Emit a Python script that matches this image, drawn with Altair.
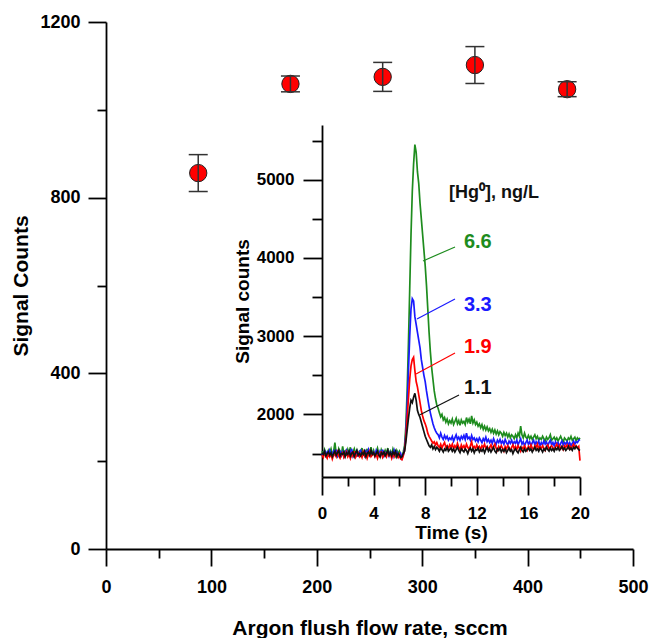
import altair as alt
import pandas as pd

FONT = "Liberation Sans"

# ---- main plot data ----
FLOW = [87.5, 175, 262.5, 350, 437.5]
COUNTS = [856, 1059, 1075, 1102, 1047]
ERR = [42, 18, 33, 42, 17]

# ---- inset data (sampled every 0.1 s) ----
TIME = [round(i * 0.1, 1) for i in range(201)]
GREEN = [1530, 1480, 1550, 1500, 1470, 1540, 1510, 1560, 1490, 1520,
         1640, 1500, 1470, 1560, 1520, 1480, 1590, 1500, 1530, 1470,
         1550, 1500, 1580, 1480, 1520, 1560, 1490, 1540, 1470, 1530,
         1510, 1570, 1480, 1530, 1500, 1560, 1470, 1520, 1580, 1490,
         1540, 1480, 1520, 1570, 1500, 1460, 1550, 1510, 1480, 1540,
         1500, 1570, 1480, 1530, 1490, 1560, 1510, 1470, 1540, 1500,
         1530, 1470, 1450, 1520, 1600, 1850, 2300, 2900, 3600, 4300,
         4850, 5200, 5450, 5350, 5100, 4950, 4700, 4500, 4300, 4100,
         3900, 3650, 3350, 3050, 2800, 2600, 2450, 2300, 2200, 2120,
         2080, 2020, 1970, 2000, 1930, 1960, 1900, 1940, 1880, 1920,
         1890, 1940, 1870, 1910, 1950, 1880, 1920, 1860, 1930, 1890,
         1910, 1870, 1960, 1900, 1940, 1880, 1980, 1890, 1930, 1870,
         1900, 1850, 1880, 1830, 1870, 1810, 1850, 1800, 1840, 1790,
         1820, 1770, 1810, 1760, 1800, 1750, 1790, 1740, 1780, 1760,
         1720, 1770, 1730, 1760, 1710, 1750, 1700, 1740, 1720, 1690,
         1740, 1700, 1760, 1720, 1850, 1740, 1700, 1760, 1710, 1690,
         1730, 1690, 1720, 1680, 1710, 1740, 1690, 1720, 1670, 1700,
         1680, 1720, 1690, 1660, 1710, 1680, 1700, 1740, 1670, 1690,
         1710, 1670, 1700, 1660, 1690, 1720, 1680, 1650, 1700, 1680,
         1660, 1700, 1680, 1720, 1670, 1690, 1710, 1660, 1700, 1680,
         1700]
BLUE = [1500, 1470, 1530, 1490, 1520, 1460, 1540, 1500, 1480, 1530,
        1490, 1550, 1470, 1510, 1530, 1480, 1520, 1460, 1500, 1540,
        1480, 1520, 1500, 1560, 1470, 1510, 1490, 1530, 1460, 1520,
        1540, 1480, 1510, 1470, 1530, 1500, 1550, 1480, 1510, 1490,
        1520, 1470, 1540, 1500, 1480, 1530, 1490, 1550, 1470, 1510,
        1490, 1530, 1470, 1520, 1500, 1460, 1540, 1490, 1520, 1480,
        1460, 1500, 1440, 1480, 1560, 1750, 2100, 2550, 3000, 3350,
        3480, 3450, 3250, 3150, 3050, 2950, 2850, 2700, 2600, 2500,
        2420, 2300, 2200, 2100, 2020, 1950, 1880, 1830, 1790, 1760,
        1740, 1700, 1760, 1710, 1680, 1730, 1690, 1720, 1670, 1700,
        1680, 1720, 1660, 1700, 1740, 1680, 1710, 1670, 1720, 1690,
        1730, 1680, 1760, 1690, 1710, 1670, 1730, 1680, 1700, 1660,
        1690, 1650, 1700, 1670, 1640, 1690, 1660, 1710, 1650, 1680,
        1640, 1670, 1630, 1690, 1650, 1620, 1670, 1640, 1680, 1630,
        1660, 1620, 1680, 1640, 1610, 1660, 1630, 1670, 1620, 1650,
        1630, 1670, 1610, 1650, 1690, 1620, 1650, 1600, 1640, 1670,
        1620, 1650, 1600, 1640, 1670, 1610, 1650, 1620, 1660, 1600,
        1640, 1610, 1660, 1620, 1650, 1600, 1640, 1670, 1610, 1640,
        1600, 1650, 1620, 1640, 1590, 1630, 1660, 1610, 1640, 1620,
        1650, 1610, 1640, 1600, 1630, 1660, 1620, 1650, 1640, 1670,
        1680]
RED = [1480, 1450, 1510, 1470, 1440, 1500, 1460, 1490, 1430, 1480,
       1500, 1460, 1520, 1470, 1440, 1490, 1510, 1450, 1480, 1520,
       1460, 1490, 1440, 1500, 1470, 1530, 1450, 1480, 1510, 1460,
       1490, 1450, 1520, 1470, 1500, 1440, 1490, 1530, 1460, 1480,
       1510, 1460, 1490, 1440, 1500, 1470, 1530, 1450, 1480, 1500,
       1460, 1520, 1470, 1490, 1440, 1500, 1460, 1510, 1480, 1450,
       1490, 1430, 1420, 1470, 1540, 1700, 1950, 2200, 2450, 2620,
       2700, 2730, 2560, 2420, 2350, 2250, 2150, 2050, 1980, 1920,
       1880, 1830, 1760, 1720, 1690, 1660, 1630, 1650, 1610, 1640,
       1600, 1580, 1620, 1570, 1610, 1640, 1580, 1600, 1560, 1610,
       1580, 1620, 1560, 1600, 1570, 1630, 1580, 1550, 1610, 1570,
       1600, 1560, 1620, 1580, 1550, 1600, 1650, 1570, 1590, 1560,
       1610, 1570, 1590, 1550, 1600, 1580, 1620, 1560, 1590, 1550,
       1580, 1610, 1560, 1590, 1620, 1570, 1540, 1590, 1560, 1600,
       1570, 1530, 1590, 1560, 1600, 1570, 1540, 1580, 1610, 1560,
       1590, 1550, 1600, 1570, 1530, 1580, 1560, 1600, 1570, 1540,
       1590, 1560, 1610, 1570, 1550, 1600, 1580, 1620, 1560, 1590,
       1560, 1600, 1570, 1540, 1590, 1610, 1560, 1580, 1600, 1570,
       1550, 1590, 1620, 1570, 1600, 1560, 1590, 1550, 1600, 1580,
       1610, 1570, 1600, 1560, 1590, 1620, 1580, 1600, 1570, 1590,
       1410]
BLACK = [1510, 1490, 1530, 1470, 1500, 1520, 1480, 1510, 1460, 1500,
         1530, 1480, 1510, 1540, 1470, 1500, 1490, 1520, 1460, 1510,
         1490, 1530, 1470, 1500, 1520, 1460, 1510, 1540, 1480, 1500,
         1470, 1510, 1490, 1530, 1460, 1500, 1520, 1480, 1540, 1490,
         1510, 1470, 1500, 1530, 1480, 1460, 1510, 1490, 1520, 1470,
         1500, 1540, 1480, 1510, 1470, 1520, 1490, 1530, 1460, 1500,
         1480, 1450, 1460, 1500, 1530, 1650, 1800, 1950, 2080, 2180,
         2150, 2220, 2270, 2180, 2050, 2000, 1960, 1900, 1840, 1780,
         1720, 1680, 1640, 1600, 1580, 1610, 1560, 1590, 1550, 1580,
         1560, 1530, 1570, 1550, 1520, 1560, 1540, 1580, 1530, 1550,
         1570, 1530, 1560, 1520, 1550, 1580, 1540, 1510, 1560, 1540,
         1520, 1560, 1540, 1500, 1550, 1570, 1530, 1560, 1510, 1550,
         1540, 1570, 1520, 1550, 1530, 1560, 1510, 1550, 1580, 1530,
         1560, 1520, 1550, 1580, 1530, 1510, 1560, 1540, 1570, 1520,
         1550, 1530, 1560, 1510, 1540, 1570, 1530, 1550, 1500, 1540,
         1560, 1530, 1510, 1550, 1580, 1540, 1520, 1560, 1530, 1550,
         1570, 1540, 1560, 1520, 1550, 1580, 1540, 1560, 1530, 1570,
         1550, 1520, 1560, 1540, 1580, 1550, 1530, 1570, 1540, 1560,
         1530, 1570, 1550, 1580, 1540, 1560, 1590, 1550, 1570, 1540,
         1560, 1590, 1550, 1570, 1540, 1580, 1560, 1590, 1570, 1550,
         1540]

CONC = ["6.6", "3.3", "1.9", "1.1"]
COLORS = ["#1e8c1e", "#1a1aff", "#ff0000", "#111111"]
LABEL_T = [11.0, 11.0, 11.0, 11.0]
LABEL_V = [4205, 3399, 2862, 2338]
LEAD_T1 = [10.31, 10.31, 10.31, 10.62]
LEAD_V1 = [4141, 3476, 2785, 2248]
LEAD_T2 = [7.83, 7.36, 7.29, 7.6]
LEAD_V2 = [3962, 3220, 2517, 1995]
LEGEND_TITLE = "[Hg\u2070], ng/L"
LEGEND_T = [9.84]
LEGEND_V = [4831]

# ---- frames ----
main_df = pd.DataFrame({
    "flow": FLOW,
    "counts": COUNTS,
    "lo": [c - e for c, e in zip(COUNTS, ERR)],
    "hi": [c + e for c, e in zip(COUNTS, ERR)],
})

ax = dict(domainColor="black", tickColor="black", domainWidth=1.8, tickWidth=1.8,
          grid=False, labelFont=FONT, labelFontWeight="bold", labelColor="black",
          titleFont=FONT, titleFontWeight="bold", titleColor="black",
          labelOverlap=False, labelFlush=False, format="d")

xs_main = alt.Scale(domain=[0, 500], nice=False, zero=False)
ys_main = alt.Scale(domain=[0, 1200], nice=False, zero=False)

points = alt.Chart(main_df).mark_point(
    shape="circle", filled=True, fill="#ff0000", stroke="#222222",
    strokeWidth=1, size=300, opacity=1
).encode(
    x=alt.X("flow:Q", scale=xs_main, axis=alt.Axis(
        values=[0, 100, 200, 300, 400, 500], tickSize=17, labelPadding=12,
        labelFontSize=18, title="Argon flush flow rate, sccm", titleFontSize=21,
        titleY=85.5, titleBaseline="alphabetic", orient="bottom", **ax)),
    y=alt.Y("counts:Q", scale=ys_main, axis=alt.Axis(
        values=[0, 400, 800, 1200], tickSize=18, labelPadding=8,
        labelFontSize=18, title="Signal Counts", titleFontSize=21,
        titleX=-79, titleBaseline="alphabetic", orient="left", **ax)),
)

bars = alt.Chart(main_df).mark_rule(color="#333333", strokeWidth=1.5).encode(
    x=alt.X("flow:Q", scale=xs_main, axis=alt.Axis(
        values=[50, 150, 250, 350, 450], tickSize=9, labels=False, domain=False,
        title=None, orient="bottom", **ax)),
    y=alt.Y("lo:Q", scale=ys_main, axis=alt.Axis(
        values=[200, 600, 1000], tickSize=9, labels=False, domain=False,
        title=None, orient="left", **ax)),
    y2="hi:Q",
)

cap_hi = alt.Chart(main_df).mark_rule(
    color="#333333", strokeWidth=1.5, xOffset=-9.5, x2Offset=9.5
).encode(
    x=alt.X("flow:Q", scale=xs_main, axis=None), x2="flow:Q",
    y=alt.Y("hi:Q", scale=ys_main, axis=None),
)
cap_lo = alt.Chart(main_df).mark_rule(
    color="#333333", strokeWidth=1.5, xOffset=-9.5, x2Offset=9.5
).encode(
    x=alt.X("flow:Q", scale=xs_main, axis=None), x2="flow:Q",
    y=alt.Y("lo:Q", scale=ys_main, axis=None),
)

main = alt.layer(points, bars, cap_hi, cap_lo).resolve_axis(x="independent", y="independent")

# ---- inset ----
xs_in = alt.Scale(domain=[0, 20], range=[216, 474], nice=False, zero=False)
ys_in = alt.Scale(domain=[1200, 5700], range=[455, 103], nice=False, zero=False)

major_x = alt.Axis(values=[0, 4, 8, 12, 16, 20], tickSize=18, labelPadding=10.7,
                   labelFontSize=17, title="Time (s)", titleFontSize=19,
                   titleY=61.8, titleBaseline="alphabetic", orient="bottom",
                   offset=-72, **ax)
major_y = alt.Axis(values=[2000, 3000, 4000, 5000], tickSize=19, labelPadding=9,
                   labelFontSize=17, title="Signal counts", titleFontSize=19,
                   titleX=-73.4, titleBaseline="alphabetic", orient="left",
                   offset=-216, **ax)
minor_x = alt.Axis(values=[2, 6, 10, 14, 18], tickSize=9, labels=False, domain=False,
                   title=None, orient="bottom", offset=-72, **ax)
minor_y = alt.Axis(values=[1500, 2500, 3500, 4500, 5500], tickSize=10, labels=False,
                   domain=False, title=None, orient="left", offset=-216, **ax)

series = [GREEN, BLUE, RED, BLACK]
line_layers = []
for i, (vals, col) in enumerate(zip(series, COLORS)):
    df = pd.DataFrame({"t": TIME, "v": vals})
    if i == 0:
        xa, ya = major_x, major_y
    elif i == 1:
        xa, ya = minor_x, minor_y
    else:
        xa, ya = None, None
    line_layers.append(
        alt.Chart(df).mark_line(color=col, strokeWidth=1.7).encode(
            x=alt.X("t:Q", scale=xs_in, axis=xa),
            y=alt.Y("v:Q", scale=ys_in, axis=ya),
        )
    )

col_scale = alt.Scale(domain=CONC, range=COLORS)

lab_df = pd.DataFrame({"c": CONC, "t": LABEL_T, "v": LABEL_V})
labels = alt.Chart(lab_df).mark_text(
    font=FONT, fontWeight="bold", fontSize=20, align="left", baseline="middle"
).encode(
    x=alt.X("t:Q", scale=xs_in, axis=None),
    y=alt.Y("v:Q", scale=ys_in, axis=None),
    text="c:N",
    color=alt.Color("c:N", scale=col_scale, legend=None),
)

lead_df = pd.DataFrame({"c": CONC, "t1": LEAD_T1, "v1": LEAD_V1, "t2": LEAD_T2, "v2": LEAD_V2})
leaders = alt.Chart(lead_df).mark_rule(strokeWidth=1.2).encode(
    x=alt.X("t1:Q", scale=xs_in, axis=None), x2="t2:Q",
    y=alt.Y("v1:Q", scale=ys_in, axis=None), y2="v2:Q",
    color=alt.Color("c:N", scale=col_scale, legend=None),
)

leg_df = pd.DataFrame({"txt": [LEGEND_TITLE], "t": LEGEND_T, "v": LEGEND_V})
leg_title = alt.Chart(leg_df).mark_text(
    font=FONT, fontWeight="bold", fontSize=18, align="left", baseline="middle",
    color="#111111"
).encode(
    x=alt.X("t:Q", scale=xs_in, axis=None),
    y=alt.Y("v:Q", scale=ys_in, axis=None),
    text="txt:N",
)

inset = alt.layer(*line_layers, leaders, labels, leg_title).resolve_axis(
    x="independent", y="independent")

chart = alt.layer(main, inset).resolve_scale(
    x="independent", y="independent", color="independent"
).properties(
    width=527, height=527,
    autosize=alt.AutoSizeParams(type="none"),
    padding={"left": 106, "top": 22, "right": 19, "bottom": 89},
    background="white",
).configure_view(strokeWidth=0)

chart.save("out.html", embed_options={"renderer": "svg", "actions": False})
